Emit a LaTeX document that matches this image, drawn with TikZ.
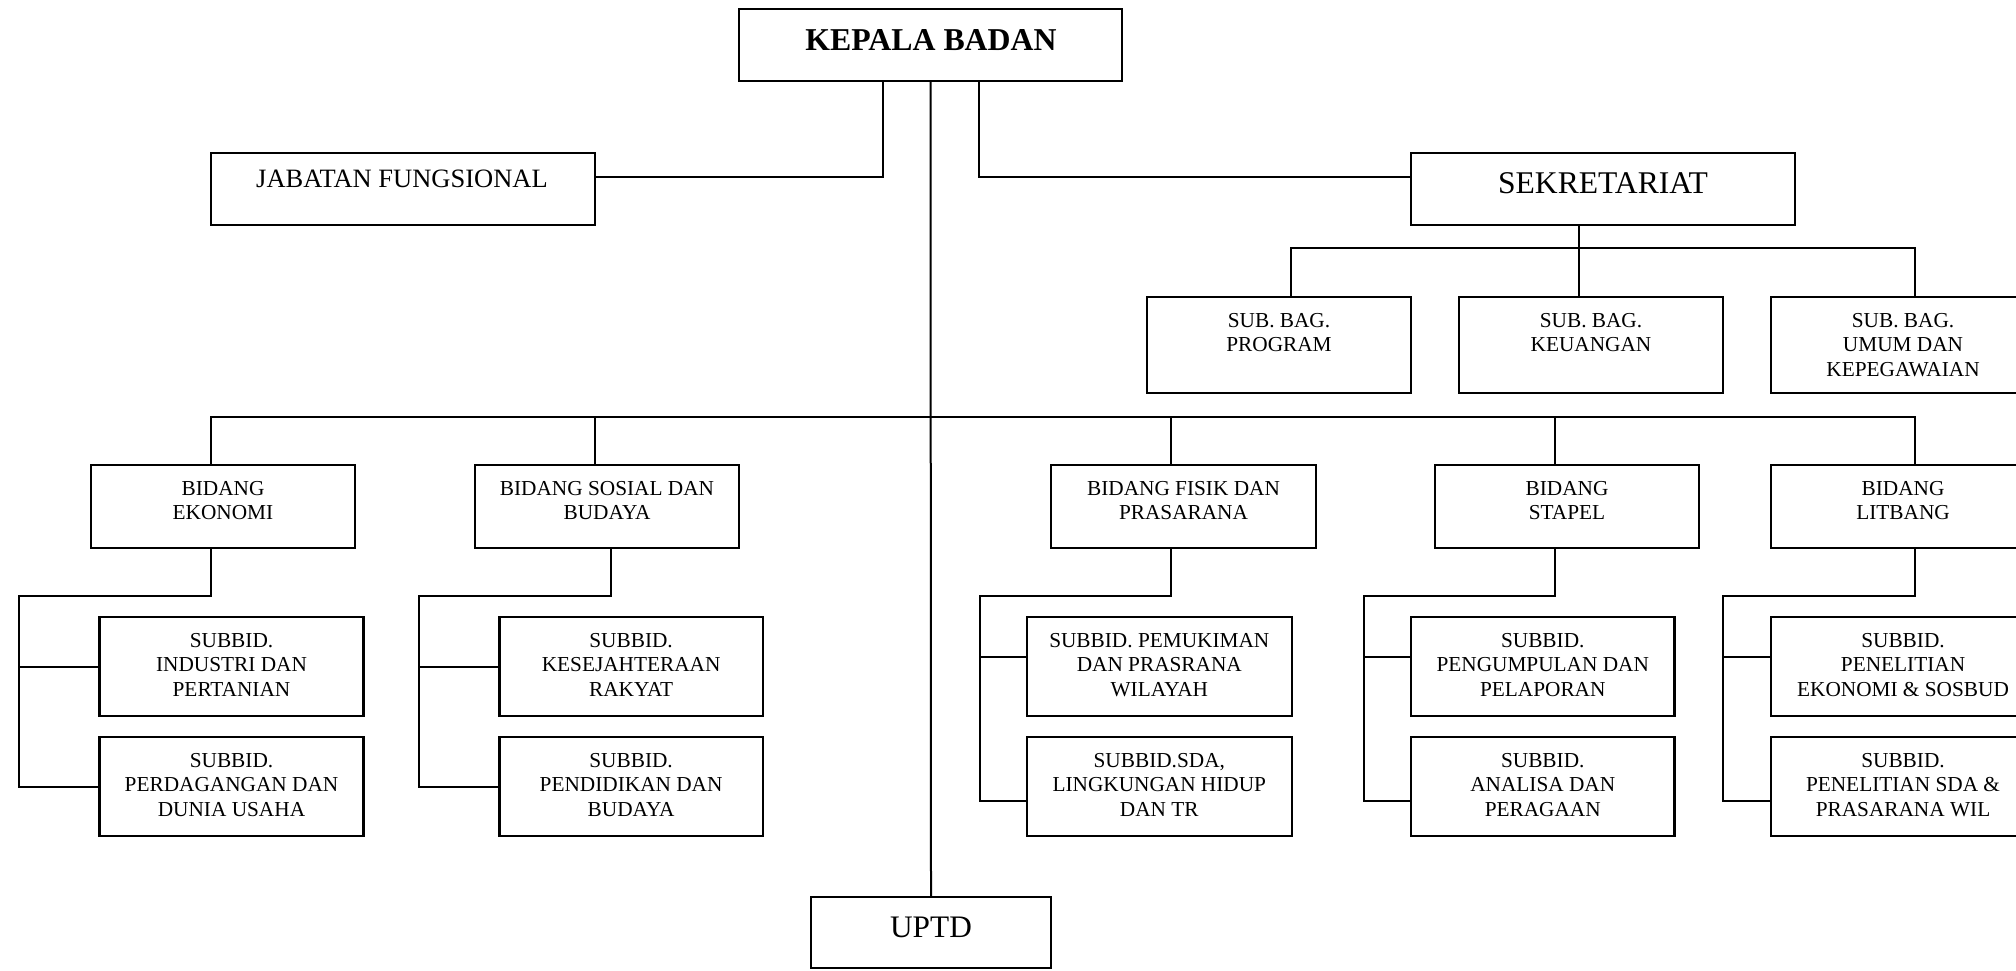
\documentclass[tikz,border=0pt]{standalone}
\usepackage{fontspec}
\setmainfont{Liberation Serif}
\usetikzlibrary{calc}
\tikzset{
  box/.style={draw=black, line width=1.1pt, inner sep=0pt, outer sep=0pt, fill=white},
  small/.style={font=\fontsize{10.65}{12.25}\selectfont, align=center, inner sep=0pt},
  conn/.style={draw=black, line width=1pt},
}
\newcommand\tbox[6]{%
  \pgfmathsetmacro\mybw{(#4-#2)*0.5}%
  \pgfmathsetmacro\mybh{(#5-#3)*0.5}%
  \node[box, minimum width=\mybw pt, minimum height=\mybh pt] (#1) at ({(#2+#4)/2},{(#3+#5)/2}) {};
  \node[small, anchor=north] (#1-t) at ($(#1.north)+(0,15.6)$) {#6};
}
\newcommand\bbox[5]{%
  \pgfmathsetmacro\mybw{(#4-#2)*0.5}%
  \pgfmathsetmacro\mybh{(#5-#3)*0.5}%
  \node[box, minimum width=\mybw pt, minimum height=\mybh pt] (#1) at ({(#2+#4)/2},{(#3+#5)/2}) {};
}
\begin{document}
\begin{tikzpicture}[x=0.5pt, y=-0.5pt]
\useasboundingbox[fill=white] (0,0) rectangle (2016,970);

\coordinate (kbL) at (883,81);
\coordinate (kbR) at (979,81);
\coordinate (mbl) at (211,416.7);
\coordinate (mbr) at (1915,416.7);
\coordinate (m2) at (595,416.7);
\coordinate (m3) at (1171,416.7);
\coordinate (m4) at (1555,416.7);
\coordinate (sbl) at (1291,248.3);
\coordinate (sbr) at (1915,248.3);
\coordinate (sbm) at (1579,248.3);

% boxes
\bbox{kb}{739}{9}{1122}{81}
\node[font=\bfseries\fontsize{15.9}{19}\selectfont, anchor=base, inner sep=0pt] (kb-t) at (931,50) {KEPALA BADAN};
\bbox{jab}{211}{153}{595}{225}
\node[font=\fontsize{13.25}{16}\selectfont, anchor=base, inner sep=0pt] (jab-t) at (402,187.7) {JABATAN FUNGSIONAL};
\bbox{sek}{1411}{153}{1795}{225}
\node[font=\fontsize{15.8}{19}\selectfont, anchor=base, inner sep=0pt] (sek-t) at (1603,193.3) {SEKRETARIAT};
\bbox{uptd}{811}{897}{1051}{968}
\node[font=\fontsize{15.65}{19}\selectfont, anchor=base, inner sep=0pt] (uptd-t) at (931,937.3) {UPTD};

\tbox{prog}{1147}{297}{1411}{393}{SUB. BAG.\\PROGRAM}
\tbox{keu}{1459}{297}{1723}{393}{SUB. BAG.\\KEUANGAN}
\tbox{umum}{1771}{297}{2035}{393}{SUB. BAG.\\UMUM DAN\\KEPEGAWAIAN}

\tbox{eko}{91}{465}{355}{548}{BIDANG\\EKONOMI}
\tbox{sos}{475}{465}{739}{548}{BIDANG SOSIAL DAN\\BUDAYA}
\tbox{fis}{1051}{465}{1316}{548}{BIDANG FISIK DAN\\PRASARANA}
\tbox{sta}{1435}{465}{1699}{548}{BIDANG\\STAPEL}
\tbox{lit}{1771}{465}{2035}{548}{BIDANG\\LITBANG}

\tbox{eko1}{99.5}{617}{363.5}{716}{SUBBID.\\INDUSTRI DAN\\PERTANIAN}
\tbox{eko2}{99.5}{737}{363.5}{836}{SUBBID.\\PERDAGANGAN DAN\\DUNIA USAHA}
\tbox{sos1}{499.4}{617}{762.8}{716}{SUBBID.\\KESEJAHTERAAN\\RAKYAT}
\tbox{sos2}{499.4}{737}{762.8}{836}{SUBBID.\\PENDIDIKAN DAN\\BUDAYA}
\tbox{fis1}{1027}{617}{1291.6}{716}{SUBBID. PEMUKIMAN\\DAN PRASRANA\\WILAYAH}
\tbox{fis2}{1027}{737}{1291.6}{836}{SUBBID.SDA,\\LINGKUNGAN HIDUP\\DAN TR}
\tbox{sta1}{1411}{617}{1674.5}{716}{SUBBID.\\PENGUMPULAN DAN\\PELAPORAN}
\tbox{sta2}{1411}{737}{1674.5}{836}{SUBBID.\\ANALISA DAN\\PERAGAAN}
\tbox{lit1}{1771}{617}{2035}{716}{SUBBID.\\PENELITIAN\\EKONOMI \& SOSBUD}
\tbox{lit2}{1771}{737}{2035}{836}{SUBBID.\\PENELITIAN SDA \&\\PRASARANA WIL}

% top connectors
\draw[conn] (kbL |- kb.south) |- ([yshift=6.15pt]jab.east);
\draw[conn] (kbR |- kb.south) |- ([yshift=6.15pt]sek.west);
\draw[conn] (kb.south) -- (uptd.north);

% sekretariat
\draw[conn] (sbm |- sek.south) -- (sbm |- keu.north);
\draw[conn] (sbl |- prog.north) -- (sbl) -- (sbr) -- (sbr |- umum.north);

% main bus
\draw[conn] (mbl |- eko.north) -- (mbl) -- (mbr) -- (mbr |- lit.north);
\draw[conn] (m2) -- (m2 |- sos.north);
\draw[conn] (m3) -- (m3 |- fis.north);
\draw[conn] (m4) -- (m4 |- sta.north);

% sub brackets, left
\coordinate (ekob) at (211,596);
\coordinate (ekol) at (19,596);
\draw[conn] (ekob |- eko.south) -- (ekob) -- (ekol) |- (eko2.west);
\draw[conn] (ekol |- eko1.west) -- (eko1.west);

\coordinate (sosb) at (611,596);
\coordinate (sosl) at (419,596);
\draw[conn] (sosb |- sos.south) -- (sosb) -- (sosl) |- (sos2.west);
\draw[conn] (sosl |- sos1.west) -- (sos1.west);

% sub brackets, right
\coordinate (fisb) at (1171,596);
\coordinate (fisl) at (980,596);
\path ($(fis1.west)+(0,-10)$) coordinate (fisy1);
\path ($(fis2.west)+(0,14.5)$) coordinate (fisy2);
\draw[conn] (fisb |- fis.south) -- (fisb) -- (fisl) |- (fisy2);
\draw[conn] (fisl |- fisy1) -- (fisy1);

\coordinate (stab) at (1555,596);
\coordinate (stal) at (1363.5,596);
\path ($(sta1.west)+(0,-10)$) coordinate (stay1);
\path ($(sta2.west)+(0,14.5)$) coordinate (stay2);
\draw[conn] (stab |- sta.south) -- (stab) -- (stal) |- (stay2);
\draw[conn] (stal |- stay1) -- (stay1);

\coordinate (litb) at (1915,596);
\coordinate (litl) at (1723,596);
\path ($(lit1.west)+(0,-10)$) coordinate (lity1);
\path ($(lit2.west)+(0,14.5)$) coordinate (lity2);
\draw[conn] (litb |- lit.south) -- (litb) -- (litl) |- (lity2);
\draw[conn] (litl |- lity1) -- (lity1);
\end{tikzpicture}
\end{document}
